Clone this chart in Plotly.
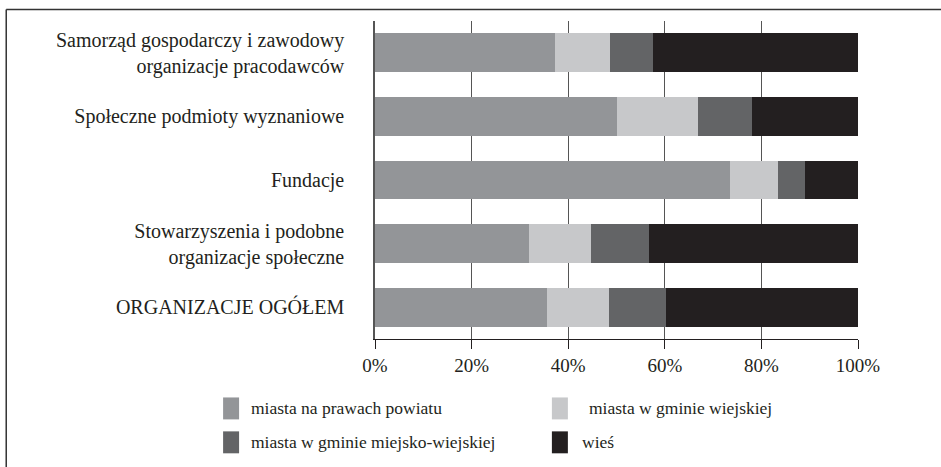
import plotly.graph_objects as go

categories = [
    "Samorząd gospodarczy i zawodowy<br>organizacje pracodawców",
    "Społeczne podmioty wyznaniowe",
    "Fundacje",
    "Stowarzyszenia i podobne<br>organizacje społeczne",
    "ORGANIZACJE OGÓŁEM",
]
series_names = [
    "miasta na prawach powiatu",
    "miasta w gminie wiejskiej",
    "miasta w gminie miejsko-wiejskiej",
    "wieś",
]
miasta_na_prawach_powiatu = [37.2, 50.1, 73.4, 31.9, 35.6]
miasta_w_gminie_wiejskiej = [11.4, 16.7, 10.0, 12.8, 12.8]
miasta_w_gminie_miejsko_wiejskiej = [8.9, 11.2, 5.6, 12.0, 11.8]
wies = [42.5, 22.0, 11.0, 43.3, 39.8]
series_values = [miasta_na_prawach_powiatu, miasta_w_gminie_wiejskiej,
                 miasta_w_gminie_miejsko_wiejskiej, wies]
colors = ["#939598", "#c7c8ca", "#636466", "#231f20"]
tick_vals = [0, 20, 40, 60, 80, 100]
tick_text = ["0%", "20%", "40%", "60%", "80%", "100%"]

W, H = 941, 467
L, R, T, B = 375, 858.3, 20.6, 339.4
FONT = "Liberation Serif, Times New Roman, serif"

fig = go.Figure()
for name, vals, col in zip(series_names, series_values, colors):
    fig.add_trace(go.Bar(y=categories, x=vals, name=name, orientation="h",
                         marker=dict(color=col, line=dict(width=0)),
                         showlegend=False))

def px(x):
    return (x - L) / (R - L)

def py(y):
    return (B - y) / (B - T)

shapes = [
    dict(type="line", xref="paper", yref="paper", x0=px(6), x1=px(945), y0=py(9), y1=py(9),
         line=dict(color="#333333", width=1.5)),
    dict(type="line", xref="paper", yref="paper", x0=px(6), x1=px(6), y0=py(9), y1=py(470),
         line=dict(color="#333333", width=1.5)),
]
annotations = []
legend_pos = [(223, 398, 249), (552, 398, 587), (223, 432, 249), (552, 432, 580)]
for (x0, y0, tx), name, col in zip(legend_pos, series_names, colors):
    shapes.append(dict(type="rect", xref="paper", yref="paper", x0=px(x0), x1=px(x0 + 16),
                       y0=py(y0), y1=py(y0 + 22), fillcolor=col, line=dict(width=0)))
    annotations.append(dict(xref="paper", yref="paper", x=px(tx), y=py(y0 + 11), text=name,
                            showarrow=False, xanchor="left", yanchor="middle",
                            font=dict(family=FONT, size=17.5, color="#231f20")))

fig.update_layout(
    width=W, height=H, barmode="stack", bargap=0.39,
    margin=dict(l=L, r=W - R, t=T, b=H - B, pad=0),
    paper_bgcolor="white", plot_bgcolor="white",
    font=dict(family=FONT, color="#231f20"),
    shapes=shapes, annotations=annotations,
    xaxis=dict(range=[0, 100], tickvals=tick_vals, ticktext=tick_text,
               showgrid=True, gridcolor="#555555", gridwidth=1,
               showline=True, linecolor="#231f20", linewidth=1.2,
               ticks="outside", ticklen=9, tickcolor="#231f20", tickwidth=1.2,
               tickfont=dict(family=FONT, size=19, color="#231f20"), zeroline=False,
               fixedrange=True),
    yaxis=dict(autorange="reversed", showline=True, linecolor="#555555", linewidth=1.5,
               ticks="", ticklabelstandoff=25, fixedrange=True,
               tickfont=dict(family=FONT, size=20, color="#231f20"), showgrid=False),
)
fig.write_html("out.html", config={"displayModeBar": False},
               post_script="document.body.style.margin='0';document.body.style.overflow='hidden';")
